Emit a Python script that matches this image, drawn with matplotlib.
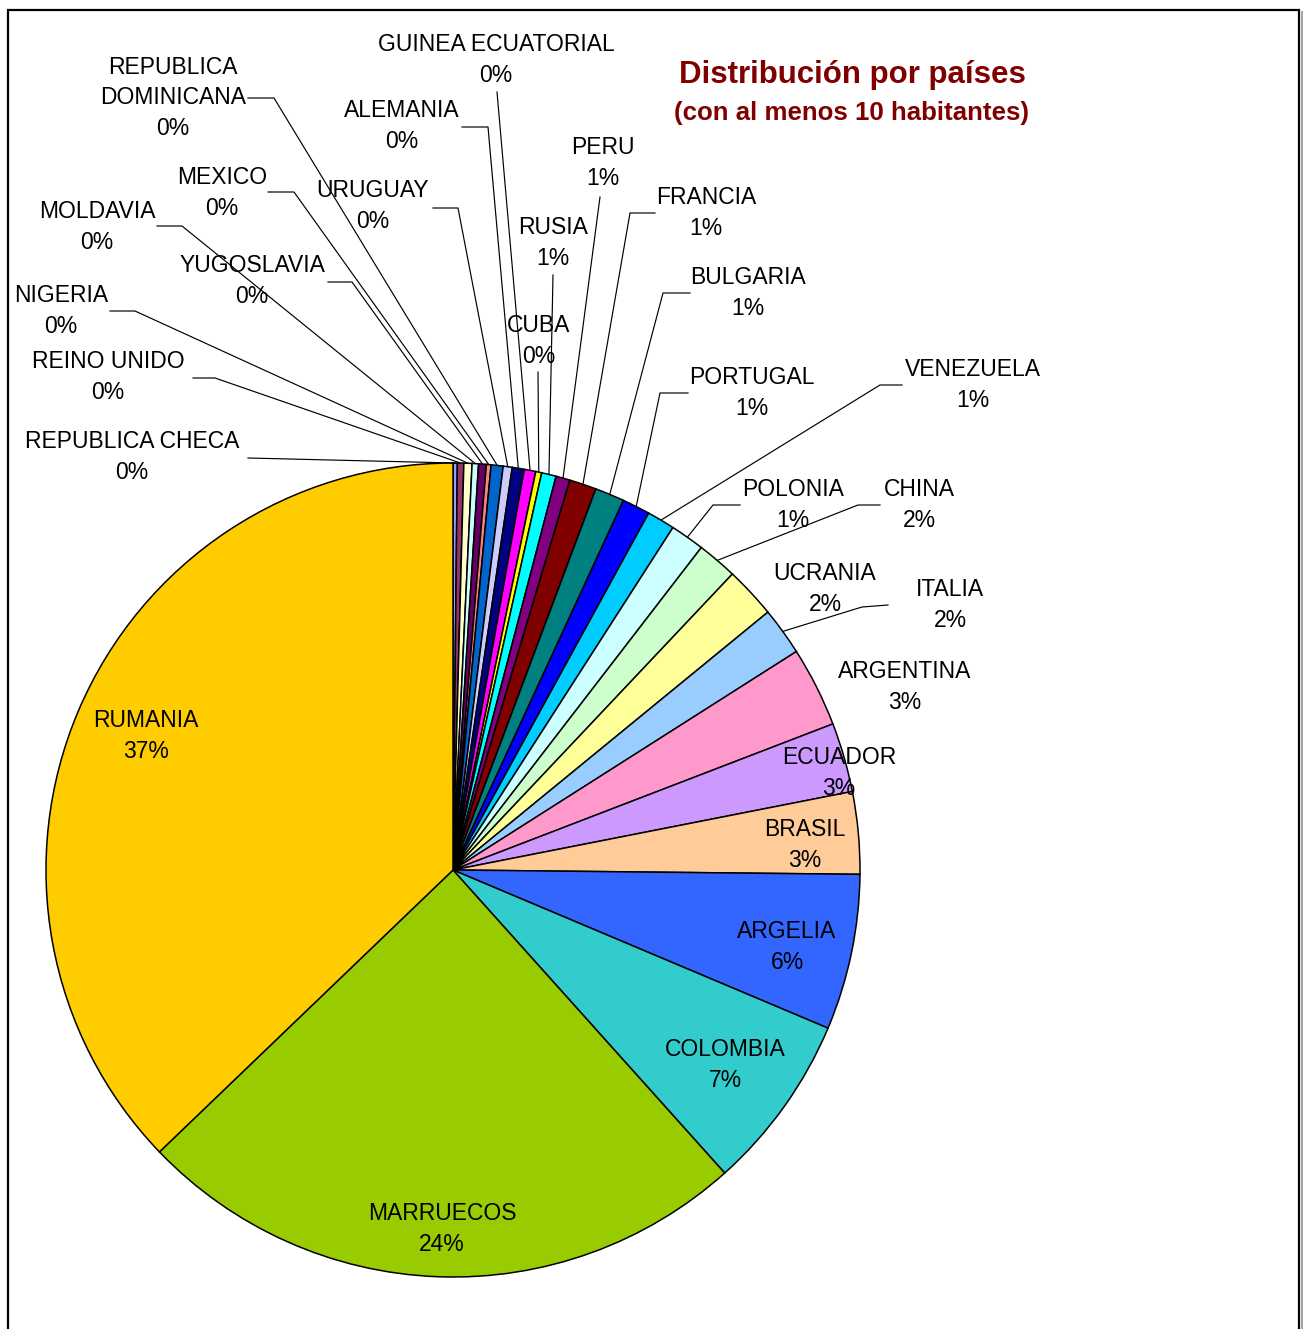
import matplotlib
matplotlib.use("Agg")
import matplotlib.pyplot as plt
import math

# --- datos: habitantes por país (orden del gráfico, sentido horario desde las 12) ---
paises = [
    "REPUBLICA CHECA", "REINO UNIDO", "NIGERIA", "MOLDAVIA", "YUGOSLAVIA",
    "MEXICO", "REPUBLICA\nDOMINICANA", "URUGUAY", "ALEMANIA", "GUINEA ECUATORIAL",
    "CUBA", "RUSIA", "PERU", "FRANCIA", "BULGARIA", "PORTUGAL", "VENEZUELA",
    "POLONIA", "CHINA", "UCRANIA", "ITALIA", "ARGENTINA", "ECUADOR", "BRASIL",
    "ARGELIA", "COLOMBIA", "MARRUECOS", "RUMANIA",
]
habitantes = [
    10, 15, 19, 15, 18, 11, 28, 21, 28, 27,
    14, 34, 33, 63, 69, 65, 65, 80, 94, 120,
    112, 187, 162, 192, 364, 413, 1440, 2189,
]

# paleta por defecto de Excel para gráficos circulares
colores = [
    "#9999FF", "#993366", "#FFFFCC", "#CCFFFF", "#660066", "#FF8080", "#0066CC",
    "#CCCCFF", "#000080", "#FF00FF", "#FFFF00", "#00FFFF", "#800080", "#800000",
    "#008080", "#0000FF", "#00CCFF", "#CCFFFF", "#CCFFCC", "#FFFF99", "#99CCFF",
    "#FF99CC", "#CC99FF", "#FFCC99", "#3366FF", "#33CCCC", "#99CC00", "#FFCC00",
]

# --- maquetación (pixeles desde la esquina superior izquierda) ---
W, H = 1303, 1329
CX, CY, R = 453, 870, 407

pos_etiquetas = [
    (132, 457), (108, 377), (61, 311), (97, 227), (252, 281),
    (222, 193), (173, 98), (373, 206), (402, 126), (496, 60),
    (539, 341), (553, 243), (603, 163), (706, 213), (748, 293),
    (752, 393), (973, 385), (793, 505), (919, 505), (825, 589),
    (950, 605), (905, 687), (839, 773), (805, 845), (787, 947),
    (725, 1065), (442, 1229), (146, 736),
]
guias = [
    [(248, 458), (330, 460)], [(193, 378), (215, 378)], [(110, 311), (135, 311)],
    [(157, 226), (182, 226)], [(328, 282), (352, 282)], [(268, 192), (294, 192)],
    [(248, 98), (274, 98)], [(433, 208), (458, 208)], [(462, 127), (488, 127)],
    [(497, 92)], [(538, 372)], [(553, 275)], [(600, 197)],
    [(655, 213), (630, 213)], [(690, 293), (663, 293)], [(688, 393), (660, 393)],
    [(902, 385), (880, 385)], [(740, 505), (713, 505)], [(880, 505), (858, 505)],
    None, [(888, 605), (862, 607)], None, None, None, None, None, None, None,
]


def fy(y):
    return H - y


plt.rcParams["font.family"] = ["Liberation Sans", "DejaVu Sans"]

fig = plt.figure(figsize=(W / 100, H / 100), dpi=100)
ax = fig.add_axes([0, 0, 1, 1])

wedges, _ = ax.pie(
    habitantes, colors=colores, startangle=90, counterclock=False,
    center=(CX, fy(CY)), radius=R,
    wedgeprops=dict(edgecolor="black", linewidth=1.1),
)

total = sum(habitantes)
for i, (nombre, n) in enumerate(zip(paises, habitantes)):
    pct = 100.0 * n / total
    tx, ty = pos_etiquetas[i]
    ax.text(tx, fy(ty), f"{nombre}\n{pct:.0f}%", ha="center", va="center",
            multialignment="center", fontsize=16.5, linespacing=1.4, color="black",
            zorder=5)
    if guias[i] is not None:
        w = wedges[i]
        mid = math.radians((w.theta1 + w.theta2) / 2)
        px = CX + R * math.cos(mid)
        py = fy(CY) + R * math.sin(mid)
        xs = [p[0] for p in guias[i]] + [px]
        ys = [fy(p[1]) for p in guias[i]] + [py]
        ax.plot(xs, ys, color="black", lw=0.85, zorder=4)

# título
ax.text(852, fy(75), "Distribución por países", ha="center", va="center",
        fontsize=22.5, fontweight="bold", color="#800000")
ax.text(852, fy(113), "(con al menos 10 habitantes)", ha="center", va="center",
        fontsize=18.6, fontweight="bold", color="#800000")

# marco del gráfico
ax.plot([8, 8, 1299, 1299], [0, fy(10), fy(10), 0], color="black", lw=1.6,
        solid_joinstyle="miter")
ax.plot([1301.5, 1301.5], [0, fy(12)], color="#909090", lw=1.2)

ax.set_xlim(0, W)
ax.set_ylim(0, H)
ax.set_aspect("equal")
ax.axis("off")

fig.savefig("out.png", dpi=100, facecolor="white")
